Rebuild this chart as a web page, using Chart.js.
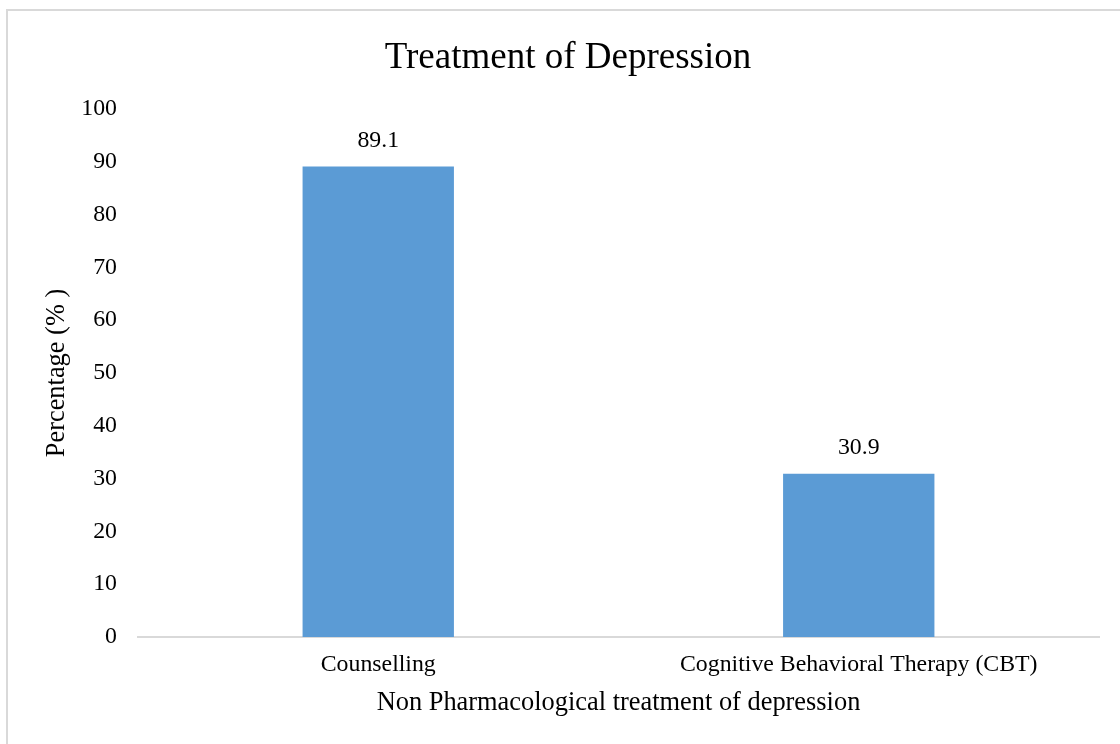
<!DOCTYPE html>
<html>
<head>
<meta charset="utf-8">
<title>Treatment of Depression</title>
<script src="https://cdn.jsdelivr.net/npm/chart.js@4"></script>
<style>
    html, body { margin: 0; padding: 0; background: #ffffff; }
    #wrap { position: relative; width: 1120px; height: 744px; overflow: hidden; }
    #frame {
        position: absolute; left: 6px; top: 9px; width: 1200px; height: 800px;
        border-top: 2px solid #d9d9d9; border-left: 2px solid #d9d9d9;
    }
    canvas { position: absolute; left: 0; top: 0; }
</style>
</head>
<body>
<div id="wrap">
    <div id="frame"></div>
    <canvas id="depressionChart" width="1120" height="744"></canvas>
</div>
<script>
// Chart data
const categories = ['Counselling', 'Cognitive Behavioral Therapy (CBT)'];
const percentages = [89.1, 30.9];
const yTicks = [0, 10, 20, 30, 40, 50, 60, 70, 80, 90, 100];

const serif = "'Liberation Serif', 'Times New Roman', serif";

// Value labels above each bar
const barLabels = {
    id: 'barLabels',
    afterDatasetsDraw(chart) {
        const ctx = chart.ctx;
        const meta = chart.getDatasetMeta(0);
        ctx.save();
        ctx.font = '23.8px ' + serif;
        ctx.fillStyle = '#000000';
        ctx.textAlign = 'center';
        ctx.textBaseline = 'middle';
        meta.data.forEach((bar, i) => {
            ctx.fillText(percentages[i].toFixed(1), bar.x, bar.y - 26);
        });
        ctx.restore();
    }
};

const ctx = document.getElementById('depressionChart').getContext('2d');
new Chart(ctx, {
    type: 'bar',
    data: {
        labels: categories,
        datasets: [{
            label: 'Percentage',
            data: percentages,
            backgroundColor: '#5b9bd5',
            borderWidth: 0,
            categoryPercentage: 1,
            barPercentage: 0.315
        }]
    },
    options: {
        responsive: false,
        animation: false,
        layout: {
            padding: { top: 10, left: 37, right: 21, bottom: 21 }
        },
        plugins: {
            legend: { display: false },
            tooltip: { enabled: false },
            title: {
                display: true,
                text: 'Treatment of Depression',
                color: '#000000',
                font: { family: serif, size: 37, weight: 'normal' },
                padding: { top: 26, bottom: 28.6 }
            }
        },
        scales: {
            x: {
                afterFit(scale) { scale.height = 86; },
                grid: { display: false, drawTicks: false },
                border: { display: true, color: '#d9d9d9', width: 2 },
                ticks: {
                    color: '#000000',
                    font: { family: serif, size: 23.8 },
                    padding: 13,
                    maxRotation: 0
                },
                title: {
                    display: true,
                    text: 'Non Pharmacological treatment of depression',
                    color: '#000000',
                    font: { family: serif, size: 26.4 },
                    padding: { top: 0, bottom: 4 }
                }
            },
            y: {
                min: 0,
                max: 100,
                afterFit(scale) { scale.width = 101; },
                afterBuildTicks(scale) { scale.ticks = yTicks.map(v => ({ value: v })); },
                grid: { display: false, drawTicks: false },
                border: { display: false },
                ticks: {
                    color: '#000000',
                    font: { family: serif, size: 23.8 },
                    padding: 21
                },
                title: {
                    display: true,
                    text: 'Percentage (% )',
                    color: '#000000',
                    font: { family: serif, size: 26.4 },
                    padding: { top: 4, bottom: 4 }
                }
            }
        }
    },
    plugins: [barLabels]
});
</script>
</body>
</html>
